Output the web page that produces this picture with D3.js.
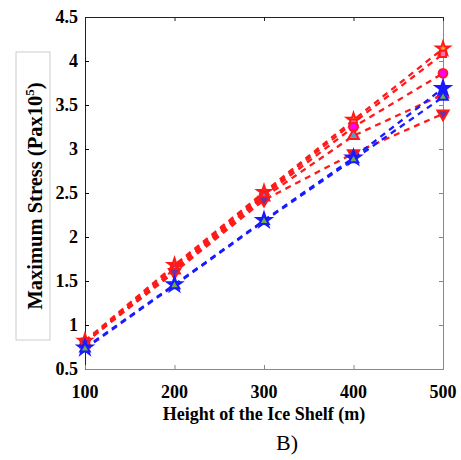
<!DOCTYPE html>
<html>
<head>
    <script src="https://d3js.org/d3.v7.min.js"></script>
    <style>
        body, html { margin: 0; background: #fff; }
        text { font-family: "Liberation Serif", "Times New Roman", serif; }
    </style>
</head>
<body>
<div id="chart"></div>
<script>
    // data
    const heights = [100, 200, 300, 400, 500];
    const red1 = [0.82, 1.68, 2.51, 3.33, 4.14];
    const red2 = [0.81, 1.66, 2.49, 3.30, 4.08];
    const red3 = [0.80, 1.63, 2.47, 3.25, 3.86];
    const red4 = [0.80, 1.62, 2.45, 3.15, 3.62];
    const red5 = [0.80, 1.60, 2.42, 2.95, 3.40];
    const blue1 = [0.74, 1.46, 2.19, 2.90, 3.69];
    const blue2 = [0.73, 1.45, 2.18, 2.88, 3.59];
    const yTicks = [0.5, 1, 1.5, 2, 2.5, 3, 3.5, 4, 4.5];

    const series = [
        {vals: red1, color: "#ff1a1a", sym: d3.symbolStar, fill: "#f5a623", size: 55},
        {vals: red2, color: "#ff1a1a", sym: d3.symbolSquare, fill: "#ff6fa8", size: 40},
        {vals: red3, color: "#ff1a1a", sym: d3.symbolCircle, fill: "#ff00ff", size: 60},
        {vals: red4, color: "#ff1a1a", sym: d3.symbolTriangle, fill: "#5b9bd5", size: 50},
        {vals: red5, color: "#ff1a1a", sym: "down", fill: "#7030a0", size: 55},
        {vals: blue1, color: "#1a1aff", sym: d3.symbolStar, fill: "#1a1aff", size: 65},
        {vals: blue2, color: "#1a1aff", sym: d3.symbolTriangle, fill: "#70ad47", size: 40}
    ];

    const width = 461, height = 460;
    const mLeft = 85, mRight = 443, mTop = 17, mBottom = 369;

    const svg = d3.select("#chart").append("svg")
        .attr("width", width)
        .attr("height", height);

    const x = d3.scaleLinear().domain([100, 500]).range([mLeft, mRight]);
    const y = d3.scaleLinear().domain([0.5, 4.5]).range([mBottom, mTop]);

    // ylabel box
    svg.append("rect")
        .attr("x", 16).attr("y", 52).attr("width", 34).attr("height", 288)
        .attr("fill", "none").attr("stroke", "#cccccc").attr("stroke-width", 1);

    // axes (ticks inward)
    const tickLen = 4;
    svg.append("g").attr("transform", `translate(${mLeft},0)`)
        .call(d3.axisRight(y).tickValues(yTicks).tickSize(tickLen).tickFormat(""))
        .call(g => g.select(".domain").attr("stroke", "#222"));
    svg.append("g").attr("transform", `translate(${mRight},0)`)
        .call(d3.axisLeft(y).tickValues(yTicks).tickSize(tickLen).tickFormat(""))
        .call(g => g.selectAll("path, line").attr("stroke", "#888"));
    svg.append("g").attr("transform", `translate(0,${mBottom})`)
        .call(d3.axisTop(x).tickValues(heights).tickSize(tickLen).tickFormat(""))
        .call(g => g.selectAll("path, line").attr("stroke", "#888"));
    svg.append("g").attr("transform", `translate(0,${mTop})`)
        .call(d3.axisBottom(x).tickValues(heights).tickSize(tickLen).tickFormat(""))
        .call(g => g.selectAll("path, line").attr("stroke", "#222"));

    // tick labels
    svg.append("g").selectAll("text").data(yTicks).join("text")
        .attr("x", mLeft - 7)
        .attr("y", d => y(d) + 6)
        .attr("text-anchor", "end")
        .attr("font-size", 18)
        .attr("font-weight", "bold")
        .text(d => d);
    svg.append("g").selectAll("text").data(heights).join("text")
        .attr("x", d => x(d))
        .attr("y", mBottom + 29)
        .attr("text-anchor", "middle")
        .attr("font-size", 18)
        .attr("font-weight", "bold")
        .text(d => d);

    // titles
    svg.append("text")
        .attr("x", (mLeft + mRight) / 2)
        .attr("y", 420)
        .attr("text-anchor", "middle")
        .attr("font-size", 18)
        .attr("font-weight", "bold")
        .text("Height of the Ice Shelf (m)");
    svg.append("text")
        .attr("x", 287)
        .attr("y", 450)
        .attr("text-anchor", "middle")
        .attr("font-size", 22)
        .text("B)");
    const yl = svg.append("text")
        .attr("transform", "translate(42,196) rotate(-90)")
        .attr("text-anchor", "middle")
        .attr("font-size", 20.5)
        .attr("font-weight", "bold");
    yl.append("tspan").text("Maximum Stress (Pax10");
    yl.append("tspan").attr("font-size", 13).attr("dy", -8).text("5");
    yl.append("tspan").attr("dy", 8).text(")");

    // lines
    const line = d3.line().x((d, i) => x(heights[i])).y(d => y(d));
    series.forEach(s => {
        svg.append("path")
            .attr("d", line(s.vals))
            .attr("fill", "none")
            .attr("stroke", s.color)
            .attr("stroke-width", 2.3)
            .attr("stroke-dasharray", "6,5");
    });

    // markers
    series.forEach(s => {
        const isDown = s.sym === "down";
        const sym = d3.symbol().type(isDown ? d3.symbolTriangle : s.sym).size(s.size);
        svg.append("g").selectAll("path").data(s.vals).join("path")
            .attr("d", sym)
            .attr("transform", (d, i) => `translate(${x(heights[i])},${y(d)})` + (isDown ? " rotate(180)" : ""))
            .attr("fill", s.fill)
            .attr("stroke", s.color)
            .attr("stroke-width", 2);
    });
</script>
</body>
</html>
